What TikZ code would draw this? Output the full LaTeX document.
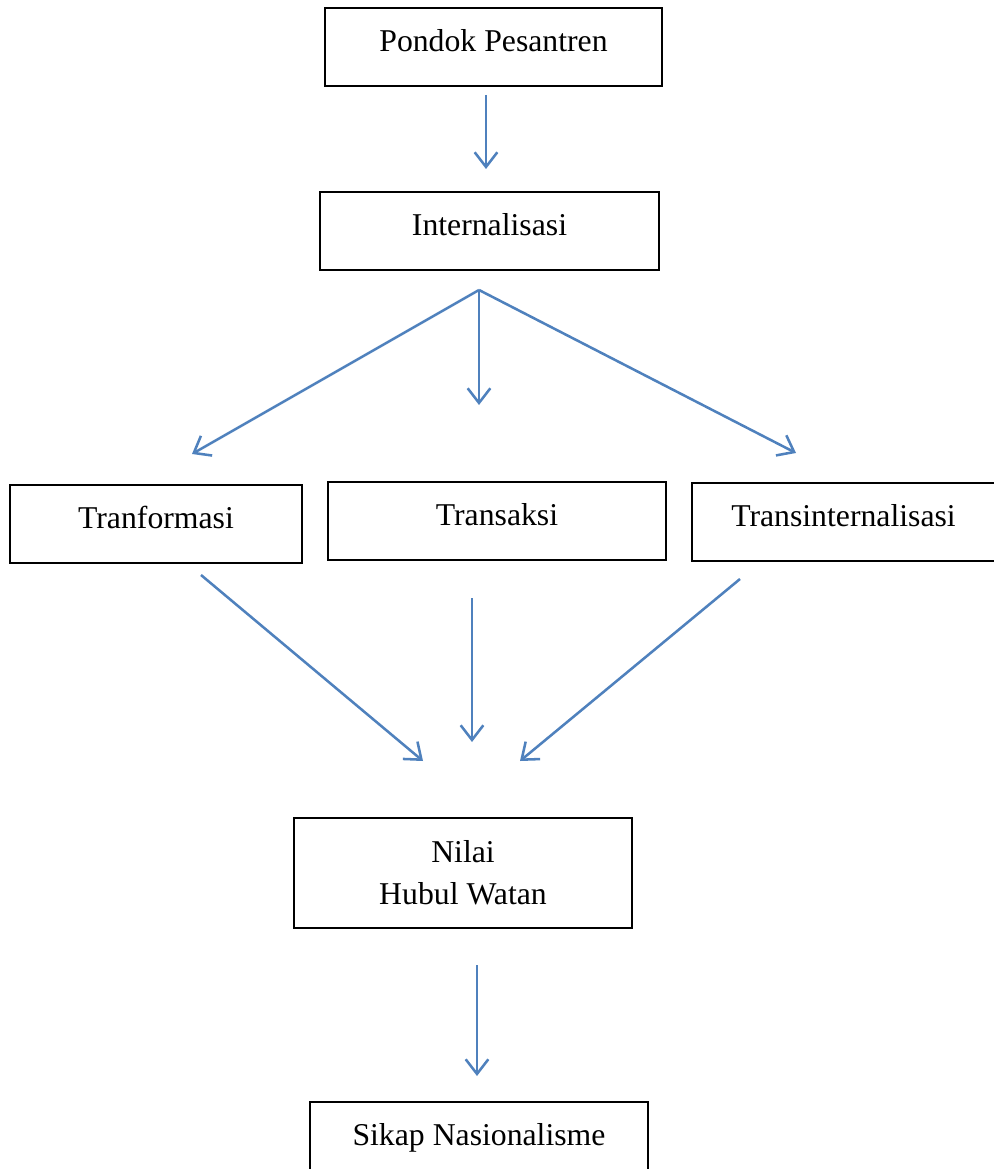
\documentclass[tikz,border=0pt]{standalone}
\usepackage{fontspec}
\setmainfont{Liberation Serif}
\usetikzlibrary{arrows.meta}
\definecolor{arrowblue}{RGB}{79,129,189}

\begin{document}
\begin{tikzpicture}[x=0.75pt,y=0.75pt,yscale=-1,
  box/.style={draw, line width=0.8pt, inner sep=0pt, minimum width=#1*0.75pt,
    text height=32.5pt, text depth=26pt, font=\fontsize{23.8}{31.5}\selectfont},
  flow/.style={draw=arrowblue, line width=1.9pt, -{Straight Barb[length=11pt,width=17pt,line width=1.9pt]}}]
\useasboundingbox (0,0) rectangle (993,1169);

% Boxes
\node[box=337] (pondok) at (493.5,47) {Pondok Pesantren};
\node[box=339] (intern) at (489.5,231) {Internalisasi};
\node[box=292] (transf) at (156,524) {Tranformasi};
\node[box=338] (transk) at (497,521) {Transaksi};
\node[box=303] (transi) at (843.5,522) {Transinternalisasi};
\node[draw, line width=0.8pt, minimum width=338*0.75pt, minimum height=110*0.75pt,
  align=center, font=\fontsize{23.8}{31.5}\selectfont] (nilai) at (463,873) {Nilai\\Hubul Watan};
\node[box=338] (sikap) at (479,1141) {Sikap Nasionalisme};

% Arrow ends
\coordinate (a1s) at (486,95);   \coordinate (a1e) at (486,169);
\coordinate (fork) at (479,290);
\coordinate (a2e) at (192,454);  \coordinate (a3e) at (479,405);  \coordinate (a4e) at (796,453);
\coordinate (b1s) at (201,575);  \coordinate (b1e) at (423,761);
\coordinate (b2s) at (472,598);  \coordinate (b2e) at (472,742);
\coordinate (b3s) at (740,579);  \coordinate (b3e) at (520,761);
\coordinate (c1s) at (477,965);  \coordinate (c1e) at (477,1076);

% Arrows
\draw[flow] (a1s) -- (a1e);
\draw[flow] (fork) -- (a2e);
\draw[flow] (fork) -- (a3e);
\draw[flow] (fork) -- (a4e);
\draw[flow] (b1s) -- (b1e);
\draw[flow] (b2s) -- (b2e);
\draw[flow] (b3s) -- (b3e);
\draw[flow] (c1s) -- (c1e);
\end{tikzpicture}
\end{document}
